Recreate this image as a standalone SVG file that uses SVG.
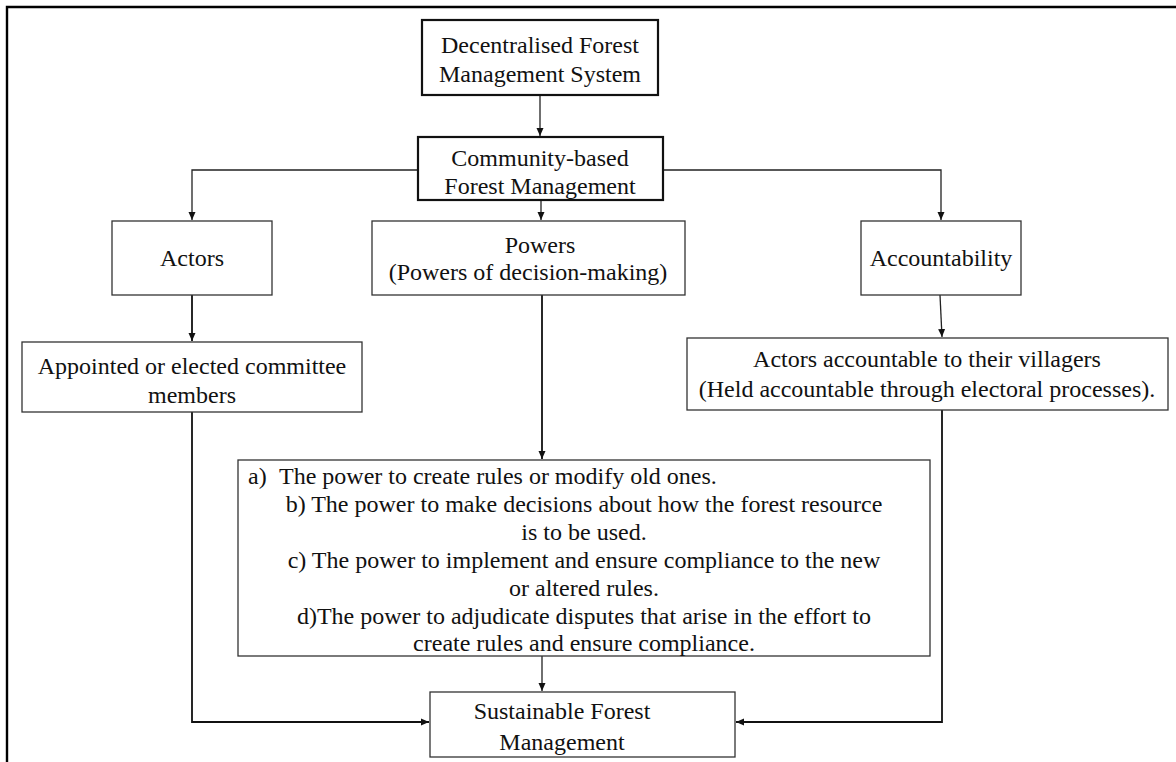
<svg xmlns="http://www.w3.org/2000/svg" width="1176" height="762" viewBox="0 0 1176 762">
<defs>
<style>
.box{fill:#fff;stroke:#333;stroke-width:1.3}
.bold{fill:#fff;stroke:#111;stroke-width:2.2}
.t{font-family:"Liberation Serif","Times New Roman",serif;font-size:24px;fill:#111;text-anchor:middle}
.tl{font-family:"Liberation Serif","Times New Roman",serif;font-size:24px;fill:#111}
.c{fill:none;stroke:#222;stroke-width:1.3}
.c2{fill:none;stroke:#111;stroke-width:1.8}
</style>
<marker id="ah" markerUnits="userSpaceOnUse" markerWidth="9" markerHeight="8" refX="8" refY="4" orient="auto">
<path d="M0,0.5 L8,4 L0,7.5 z" fill="#111"/>
</marker>
</defs>
<rect width="1176" height="762" fill="#fff"/>
<path d="M7,762 V7 H1176" fill="none" stroke="#000" stroke-width="2.4"/>
<g id="connectors">
<path class="c" d="M540,95 V136" marker-end="url(#ah)"/>
<path class="c" d="M418,170 H192 V220" marker-end="url(#ah)"/>
<path class="c" d="M663,170 H941 V220" marker-end="url(#ah)"/>
<path class="c" d="M541,200 V220" marker-end="url(#ah)"/>
<path class="c2" d="M192,295 V341" marker-end="url(#ah)"/>
<path class="c2" d="M542,295 V459" marker-end="url(#ah)"/>
<path class="c" d="M940,295 L942,337" marker-end="url(#ah)"/>
<path class="c2" d="M192,412 V722 H429" marker-end="url(#ah)"/>
<path class="c2" d="M942,410 V722 H736" marker-end="url(#ah)"/>
<path class="c" d="M542,656 V691" marker-end="url(#ah)"/>
</g>
<g id="n-dfms">
<rect class="bold" x="422" y="20" width="236" height="75"/>
<text class="t" x="540" y="53">Decentralised Forest</text>
<text class="t" x="540" y="82">Management System</text>
</g>
<g id="n-cbfm">
<rect class="bold" x="418" y="137" width="245" height="63"/>
<text class="t" x="540" y="166">Community-based</text>
<text class="t" x="540" y="194">Forest Management</text>
</g>
<g id="n-actors">
<rect class="box" x="112" y="221" width="160" height="74"/>
<text class="t" x="192" y="266">Actors</text>
</g>
<g id="n-powers">
<rect class="box" x="372" y="221" width="313" height="74"/>
<text class="t" x="540" y="253">Powers</text>
<text class="t" x="528" y="280">(Powers of decision-making)</text>
</g>
<g id="n-account">
<rect class="box" x="861" y="221" width="160" height="74"/>
<text class="t" x="941" y="266">Accountability</text>
</g>
<g id="n-appointed">
<rect class="box" x="22" y="342" width="340" height="70"/>
<text class="t" x="192" y="374">Appointed or elected committee</text>
<text class="t" x="192" y="403">members</text>
</g>
<g id="n-villagers">
<rect class="box" x="687" y="338" width="481" height="72"/>
<text class="t" x="927" y="367">Actors accountable to their villagers</text>
<text class="t" x="927" y="397">(Held accountable through electoral processes).</text>
</g>
<g id="n-list">
<rect class="box" x="238" y="460" width="692" height="196"/>
<text class="tl" x="248" y="484">a)</text>
<text class="tl" x="279" y="484">The power to create rules or modify old ones.</text>
<text class="t" x="584" y="512">b) The power to make decisions about how the forest resource</text>
<text class="t" x="584" y="540">is to be used.</text>
<text class="t" x="584" y="568">c) The power to implement and ensure compliance to the new</text>
<text class="t" x="584" y="596">or altered rules.</text>
<text class="t" x="584" y="624">d)The power to adjudicate disputes that arise in the effort to</text>
<text class="t" x="584" y="651">create rules and ensure compliance.</text>
</g>
<g id="n-sfm">
<rect class="box" x="430" y="692" width="305" height="65"/>
<text class="t" x="562" y="719">Sustainable Forest</text>
<text class="t" x="562" y="750">Management</text>
</g>
</svg>
